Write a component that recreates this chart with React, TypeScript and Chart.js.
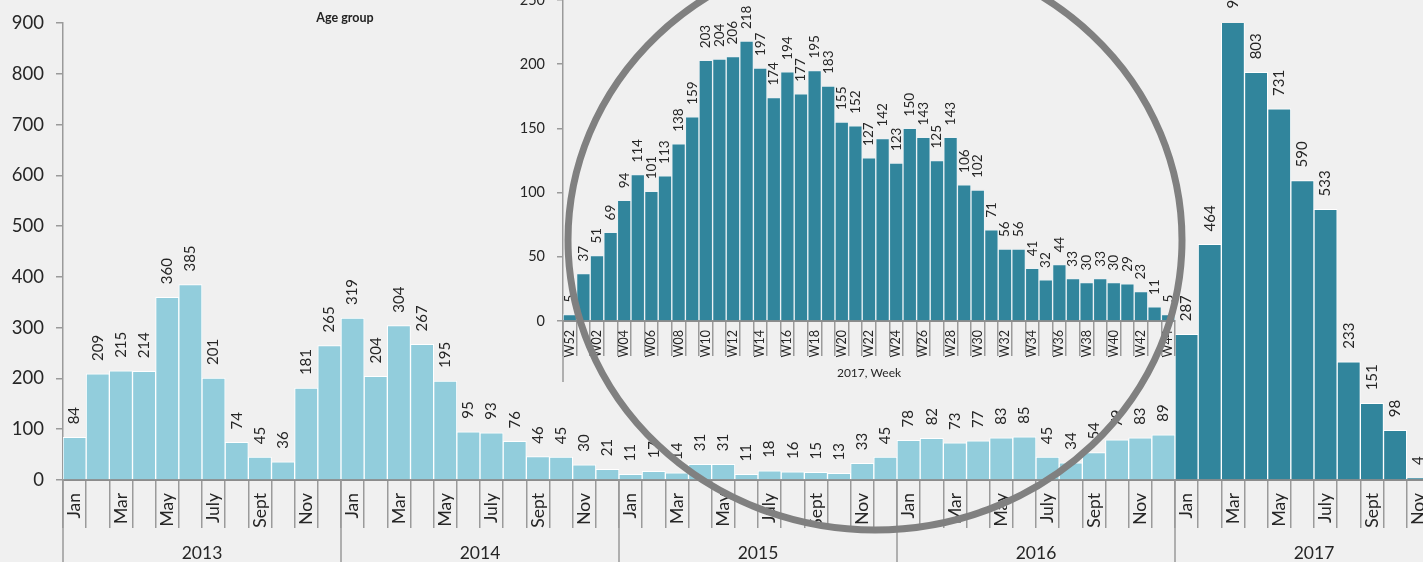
import React, { useEffect, useRef } from 'react';
import { Chart, registerables } from 'chart.js';

Chart.register(...registerables);

const FONT = 'Lato, "Open Sans", "Noto Sans", sans-serif';
const LIGHT = '#92cddc';
const DARK = '#31859c';
const TEXT = '#262626';
const AXIS = '#9a9a9a';

// ---- Monthly cases (main chart) ----
const years = ['2013', '2014', '2015', '2016', '2017'];
const monthTickLabels = ['Jan', '', 'Mar', '', 'May', '', 'July', '', 'Sept', '', 'Nov', ''];
const cases2013 = [84, 209, 215, 214, 360, 385, 201, 74, 45, 36, 181, 265];
const cases2014 = [319, 204, 304, 267, 195, 95, 93, 76, 46, 45, 30, 21];
const cases2015 = [11, 17, 14, 31, 31, 11, 18, 16, 15, 13, 33, 45];
const cases2016 = [78, 82, 73, 77, 83, 85, 45, 34, 54, 79, 83, 89];
const cases2017 = [287, 464, 903, 803, 731, 590, 533, 233, 151, 98, 4, null];
const mainYTicks = { min: 0, max: 900, step: 100 };

// ---- Weekly cases 2017 (inset) ----
const weekLabels = [
  'W52', 'W01', 'W02', 'W03', 'W04', 'W05', 'W06', 'W07', 'W08', 'W09', 'W10', 'W11',
  'W12', 'W13', 'W14', 'W15', 'W16', 'W17', 'W18', 'W19', 'W20', 'W21', 'W22', 'W23',
  'W24', 'W25', 'W26', 'W27', 'W28', 'W29', 'W30', 'W31', 'W32', 'W33', 'W34', 'W35',
  'W36', 'W37', 'W38', 'W39', 'W40', 'W41', 'W42', 'W43', 'W44',
];
const weeklyCases = [
  5, 37, 51, 69, 94, 114, 101, 113, 138, 159, 203, 204, 206, 218, 197, 174, 194, 177, 195, 183,
  155, 152, 127, 142, 123, 150, 143, 125, 143, 106, 102, 71, 56, 56, 41, 32, 44, 33, 30, 33,
  30, 29, 23, 11, 5,
];
const insetYTicks = { min: 0, max: 250, step: 50 };
const insetTitle = '2017, Week';
const topCaption = 'Age group';

const yearSeries = [cases2013, cases2014, cases2015, cases2016, cases2017];
const monthCategories = years.flatMap((y) => monthTickLabels.map((_, m) => `${y}-${m + 1}`));
const monthValues = yearSeries.flat();
const monthColors = years.flatMap((y) => monthTickLabels.map(() => (y === '2017' ? DARK : LIGHT)));

function barLabels(id: string, offset: number, size: number) {
  return {
    id,
    afterDatasetsDraw(chart: any) {
      const { ctx } = chart;
      const meta = chart.getDatasetMeta(0);
      const data = chart.data.datasets[0].data;
      ctx.save();
      ctx.font = `${size}px ${FONT}`;
      ctx.fillStyle = TEXT;
      ctx.textAlign = 'left';
      ctx.textBaseline = 'middle';
      meta.data.forEach((el: any, i: number) => {
        const v = data[i];
        if (v === null || v === undefined) return;
        ctx.save();
        ctx.translate(el.x, el.y - offset);
        ctx.rotate(-Math.PI / 2);
        ctx.fillText(String(v), 0, 0);
        ctx.restore();
      });
      ctx.restore();
    },
  };
}

const yearAxisPlugin = {
  id: 'yearAxis',
  afterDraw(chart: any) {
    const { ctx, chartArea } = chart;
    const xs = chart.scales.x;
    const half = (xs.getPixelForValue(1) - xs.getPixelForValue(0)) / 2;
    ctx.save();
    ctx.strokeStyle = AXIS;
    ctx.lineWidth = 1.5;
    for (let i = 0; i <= years.length; i++) {
      const x = xs.getPixelForValue(i * 12) - half;
      ctx.beginPath();
      ctx.moveTo(x, chartArea.bottom);
      ctx.lineTo(x, chart.height);
      ctx.stroke();
    }
    ctx.font = `17.5px ${FONT}`;
    ctx.fillStyle = TEXT;
    ctx.textAlign = 'center';
    ctx.textBaseline = 'middle';
    years.forEach((y, i) => {
      const cx = (xs.getPixelForValue(i * 12) + xs.getPixelForValue(i * 12 + 11)) / 2;
      ctx.fillText(y, cx, chartArea.bottom + 73);
    });
    ctx.restore();
  },
};

const insetExtrasPlugin = {
  id: 'insetExtras',
  afterDraw(chart: any) {
    const { ctx, chartArea } = chart;
    ctx.save();
    ctx.strokeStyle = AXIS;
    ctx.lineWidth = 1.5;
    ctx.beginPath();
    ctx.moveTo(chartArea.left, chartArea.bottom);
    ctx.lineTo(chartArea.left, chartArea.bottom + 61);
    ctx.stroke();
    ctx.font = `12px ${FONT}`;
    ctx.fillStyle = TEXT;
    ctx.textAlign = 'center';
    ctx.textBaseline = 'middle';
    ctx.fillText(insetTitle, (chartArea.left + chartArea.right) / 2, chartArea.bottom + 52);
    ctx.restore();
  },
};

export default function App() {
  const mainRef = useRef<HTMLCanvasElement>(null);
  const insetRef = useRef<HTMLCanvasElement>(null);

  useEffect(() => {
    const main = new Chart(mainRef.current as HTMLCanvasElement, {
      type: 'bar',
      data: {
        labels: monthCategories,
        datasets: [
          {
            data: monthValues as any,
            backgroundColor: monthColors,
            borderColor: '#ffffff',
            borderWidth: 1,
            categoryPercentage: 1,
            barPercentage: 1,
            clip: 0 as any,
          },
        ],
      },
      options: {
        responsive: false,
        animation: false,
        events: [],
        layout: { padding: { top: 20, right: 7, bottom: 0, left: 0 } },
        plugins: { legend: { display: false }, tooltip: { enabled: false } },
        scales: {
          x: {
            type: 'category',
            offset: true,
            grid: {
              offset: true,
              drawOnChartArea: false,
              drawTicks: true,
              tickLength: 48,
              color: AXIS,
              lineWidth: 1.5,
            },
            border: { display: true, color: '#8c8c8c', width: 2 },
            ticks: {
              autoSkip: false,
              maxRotation: 90,
              minRotation: 90,
              padding: -35,
              color: TEXT,
              font: { family: FONT, size: 17.5 },
              callback: (_v: any, i: number) => monthTickLabels[i % 12],
            },
            afterFit: (s: any) => {
              s.height = 82;
              s.paddingLeft = 0;
              s.paddingRight = 0;
            },
          },
          y: {
            min: mainYTicks.min,
            max: mainYTicks.max,
            ticks: {
              stepSize: mainYTicks.step,
              padding: 12,
              color: TEXT,
              font: { family: FONT, size: 18.5 },
            },
            grid: {
              drawOnChartArea: false,
              drawTicks: true,
              tickLength: 7,
              color: AXIS,
              lineWidth: 1.5,
            },
            border: { display: true, color: AXIS, width: 1.5 },
            afterFit: (s: any) => {
              s.width = 63;
            },
          },
        },
      },
      plugins: [barLabels('mainLabels', 13, 15), yearAxisPlugin],
    } as any);

    const inset = new Chart(insetRef.current as HTMLCanvasElement, {
      type: 'bar',
      data: {
        labels: weekLabels,
        datasets: [
          {
            data: weeklyCases,
            backgroundColor: DARK,
            borderColor: 'rgba(235,242,245,0.9)',
            borderWidth: 1,
            categoryPercentage: 1,
            barPercentage: 1,
          },
        ],
      },
      options: {
        responsive: false,
        animation: false,
        events: [],
        layout: { padding: { top: 0, right: 5, bottom: 0, left: 0 } },
        plugins: { legend: { display: false }, tooltip: { enabled: false } },
        scales: {
          x: {
            type: 'category',
            offset: true,
            grid: {
              offset: true,
              drawOnChartArea: false,
              drawTicks: true,
              tickLength: 35,
              color: AXIS,
              lineWidth: 1.5,
            },
            border: { display: true, color: '#8c8c8c', width: 2 },
            ticks: {
              autoSkip: false,
              maxRotation: 90,
              minRotation: 90,
              padding: -26,
              color: TEXT,
              font: { family: FONT, size: 12.5 },
              callback: (_v: any, i: number) => (i % 2 === 0 ? weekLabels[i] : ''),
            },
            afterFit: (s: any) => {
              s.height = 79;
              s.paddingLeft = 0;
              s.paddingRight = 0;
            },
          },
          y: {
            min: insetYTicks.min,
            max: insetYTicks.max,
            ticks: {
              stepSize: insetYTicks.step,
              padding: 12,
              color: TEXT,
              font: { family: FONT, size: 14.5 },
            },
            grid: {
              drawOnChartArea: false,
              drawTicks: true,
              tickLength: 6,
              color: AXIS,
              lineWidth: 1.5,
            },
            border: { display: true, color: AXIS, width: 1.5 },
            afterFit: (s: any) => {
              s.width = 93;
              s.paddingTop = 0;
              s.paddingBottom = 0;
            },
          },
        },
      },
      plugins: [barLabels('insetLabels', 12, 13.5), insetExtrasPlugin],
    } as any);

    return () => {
      main.destroy();
      inset.destroy();
    };
  }, []);

  return (
    <div
      style={{
        position: 'fixed',
        left: 0,
        top: 0,
        width: 1423,
        height: 562,
        overflow: 'hidden',
        background: '#f0f0f0',
      }}
    >
      <canvas
        ref={mainRef}
        width={1460}
        height={562}
        style={{ position: 'absolute', left: 0, top: 0, width: 1460, height: 562 }}
      />
      <div
        style={{
          position: 'absolute',
          left: 345,
          top: 17,
          transform: 'translate(-50%, -50%)',
          fontFamily: FONT,
          fontWeight: 700,
          fontSize: 12.5,
          color: '#222',
          whiteSpace: 'nowrap',
        }}
      >
        {topCaption}
      </div>
      <canvas
        ref={insetRef}
        width={710}
        height={400}
        style={{ position: 'absolute', left: 470, top: 0, width: 710, height: 400 }}
      />
      <svg
        width={1423}
        height={562}
        style={{ position: 'absolute', left: 0, top: 0, pointerEvents: 'none' }}
      >
        <ellipse cx={875} cy={240} rx={307} ry={290} fill="none" stroke="#808080" strokeWidth={7} />
      </svg>
    </div>
  );
}
